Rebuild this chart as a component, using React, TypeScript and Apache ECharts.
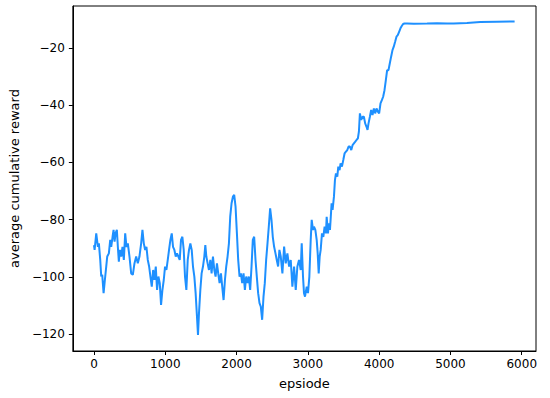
import React, { useEffect, useRef } from "react";
import * as echarts from "echarts";

const episodes: number[] = [
  0, 9, 32, 55, 69, 88, 102, 116, 135, 153, 172, 186, 209, 228, 242, 261, 275, 289, 303, 321,
  335, 349, 363, 382, 400, 419, 438, 456, 475, 498, 522, 545, 568, 592, 615, 638, 662, 680, 699, 718,
  736, 755, 774, 792, 811, 830, 848, 867, 885, 904, 923, 941, 960, 979, 997, 1016, 1035, 1053, 1072, 1091,
  1109, 1128, 1147, 1165, 1184, 1203, 1221, 1240, 1259, 1277, 1296, 1315, 1333, 1352, 1371, 1389, 1408, 1426, 1445, 1459,
  1473, 1492, 1510, 1529, 1548, 1562, 1576, 1594, 1613, 1632, 1650, 1669, 1688, 1706, 1725, 1743, 1762, 1781, 1799, 1818,
  1837, 1855, 1874, 1893, 1911, 1930, 1949, 1967, 1986, 2005, 2023, 2042, 2061, 2079, 2098, 2117, 2135, 2154, 2172, 2191,
  2210, 2228, 2247, 2266, 2284, 2303, 2322, 2340, 2359, 2378, 2396, 2415, 2434, 2452, 2471, 2490, 2508, 2527, 2546, 2564,
  2583, 2601, 2620, 2643, 2667, 2690, 2713, 2737, 2760, 2783, 2807, 2830, 2853, 2876, 2900, 2914, 2932, 2946, 2960, 2984,
  3002, 3021, 3040, 3054, 3072, 3086, 3105, 3124, 3138, 3152, 3166, 3180, 3198, 3217, 3235, 3254, 3264, 3282, 3296, 3310,
  3319, 3333, 3347, 3366, 3380, 3394, 3413, 3427, 3445, 3459, 3478, 3497, 3515, 3534, 3553, 3571, 3590, 3609, 3627, 3646,
  3665, 3683, 3702, 3716, 3730, 3748, 3767, 3786, 3804, 3823, 3837, 3851, 3870, 3888, 3907, 3926, 3944, 3963, 3982, 4000,
  4019, 4038, 4056, 4075, 4094, 4112, 4131, 4149, 4168, 4187, 4205, 4224, 4243, 4261, 4280, 4299, 4317, 4336, 4355, 4392,
  4485, 4672, 4812, 4952, 5045, 5231, 5418, 5651, 5900,
];

const rewards: number[] = [
  -88.9, -90.6, -84.8, -89.5, -88.3, -94.1, -99.9, -99.3, -105.7, -101.1, -96.4, -92.9, -91.8, -87.1, -89.5, -86.0, -83.6, -87.7, -84.8, -83.6,
  -89.5, -94.7, -90.6, -92.9, -89.5, -94.1, -84.8, -89.5, -88.3, -92.9, -98.8, -99.3, -95.3, -92.9, -95.3, -92.9, -88.3, -83.6, -88.3, -90.6,
  -89.5, -94.1, -96.4, -99.9, -103.4, -97.6, -101.1, -96.4, -104.6, -99.9, -102.2, -109.8, -104.6, -101.1, -96.4, -97.6, -94.1, -90.6, -87.1, -84.8,
  -89.5, -90.6, -92.9, -91.8, -92.9, -94.1, -87.1, -86.0, -90.6, -99.9, -104.6, -94.1, -90.6, -88.3, -90.6, -96.4, -99.9, -105.7, -113.9, -120.3,
  -112.7, -104.6, -98.8, -96.4, -92.9, -88.9, -92.9, -95.3, -97.6, -94.1, -98.8, -92.9, -97.6, -99.9, -95.3, -98.8, -102.2, -98.8, -103.4, -108.1,
  -101.1, -96.4, -92.9, -88.3, -79.0, -74.3, -72.0, -71.4, -75.5, -84.8, -94.1, -99.9, -98.8, -102.2, -98.8, -104.6, -99.9, -102.2, -99.9, -104.6,
  -96.4, -87.1, -86.0, -94.1, -99.9, -105.7, -109.2, -110.4, -115.0, -106.9, -102.2, -94.1, -88.3, -82.5, -76.1, -80.1, -86.0, -89.5, -91.8, -94.1,
  -96.4, -90.6, -92.9, -98.8, -89.4, -95.3, -91.8, -96.4, -94.1, -103.4, -96.4, -104.6, -96.4, -94.1, -97.6, -88.3, -99.9, -105.7, -106.9, -103.4,
  -105.7, -99.9, -87.1, -80.1, -83.6, -82.5, -83.6, -87.1, -91.8, -98.8, -92.9, -90.6, -84.8, -86.0, -82.5, -84.8, -79.0, -84.8, -81.3, -83.6,
  -80.1, -74.3, -76.6, -72.0, -66.2, -63.9, -65.0, -61.5, -62.7, -60.4, -61.5, -59.2, -56.9, -56.3, -55.7, -54.5, -54.5, -55.7, -54.0, -53.4,
  -52.8, -52.2, -51.6, -49.3, -42.9, -45.2, -44.1, -44.1, -46.4, -47.6, -48.7, -46.4, -44.1, -41.7, -43.5, -41.2, -42.9, -41.2, -42.3, -42.9,
  -39.4, -38.3, -37.1, -34.8, -31.3, -27.8, -27.8, -25.5, -23.1, -20.8, -19.6, -17.9, -16.1, -15.6, -14.4, -13.2, -12.4, -11.7, -11.5, -11.5,
  -11.6, -11.5, -11.4, -11.5, -11.5, -11.3, -11.0, -10.9, -10.8,
];

const xTicks: number[] = [0, 1000, 2000, 3000, 4000, 5000, 6000];
const yTicks: number[] = [-120, -100, -80, -60, -40, -20];

const xLabel = "epsiode";
const yLabel = "average cumulative reward";

const FONT = "DejaVu Sans";

export default function App() {
  const ref = useRef<HTMLDivElement>(null);
  useEffect(() => {
    if (!ref.current) return;
    const chart = echarts.init(ref.current, null, { renderer: "svg" });
    const data = episodes.map((e, i) => [e, rewards[i]]);
    const fmt = (v: number) => (v < 0 ? "\u2212" + Math.abs(v) : String(v));
    chart.setOption({
      animation: false,
      backgroundColor: "#fff",
      grid: {
        left: 71,
        top: 6,
        right: 14,
        bottom: 47,
        show: true,
        borderColor: "#000",
        borderWidth: 1,
        backgroundColor: "transparent",
      },
      xAxis: {
        type: "value",
        min: -296,
        max: 6200,
        name: xLabel,
        nameLocation: "middle",
        nameGap: 26,
        nameTextStyle: { fontFamily: FONT, fontSize: 13, color: "#000" },
        axisLine: { show: true, onZero: false, lineStyle: { color: "#000", width: 1 } },
        axisTick: {
          show: true,
          inside: false,
          length: 4,
          customValues: xTicks,
          lineStyle: { color: "#000", width: 1 },
        },
        axisLabel: {
          show: true,
          margin: 7,
          customValues: xTicks,
          formatter: fmt,
          fontFamily: FONT,
          fontSize: 12,
          color: "#000",
        },
        splitLine: { show: false },
      },
      yAxis: {
        type: "value",
        min: -125.9,
        max: -5.4,
        name: yLabel,
        nameLocation: "middle",
        nameGap: 47,
        nameRotate: 90,
        nameTextStyle: { fontFamily: FONT, fontSize: 13, color: "#000" },
        axisLine: { show: true, onZero: false, lineStyle: { color: "#000", width: 1 } },
        axisTick: {
          show: true,
          inside: false,
          length: 4,
          customValues: yTicks,
          lineStyle: { color: "#000", width: 1 },
        },
        axisLabel: {
          show: true,
          margin: 8,
          customValues: yTicks,
          formatter: fmt,
          fontFamily: FONT,
          fontSize: 12,
          color: "#000",
        },
        splitLine: { show: false },
      },
      series: [
        {
          type: "line",
          data,
          showSymbol: false,
          symbol: "none",
          lineStyle: { color: "#1E90FF", width: 2 },
          itemStyle: { color: "#1E90FF" },
        },
      ],
    });
    return () => chart.dispose();
  }, []);
  return (
    <div
      ref={ref}
      style={{ position: "fixed", left: 0, top: 0, width: 550, height: 398 }}
    />
  );
}
